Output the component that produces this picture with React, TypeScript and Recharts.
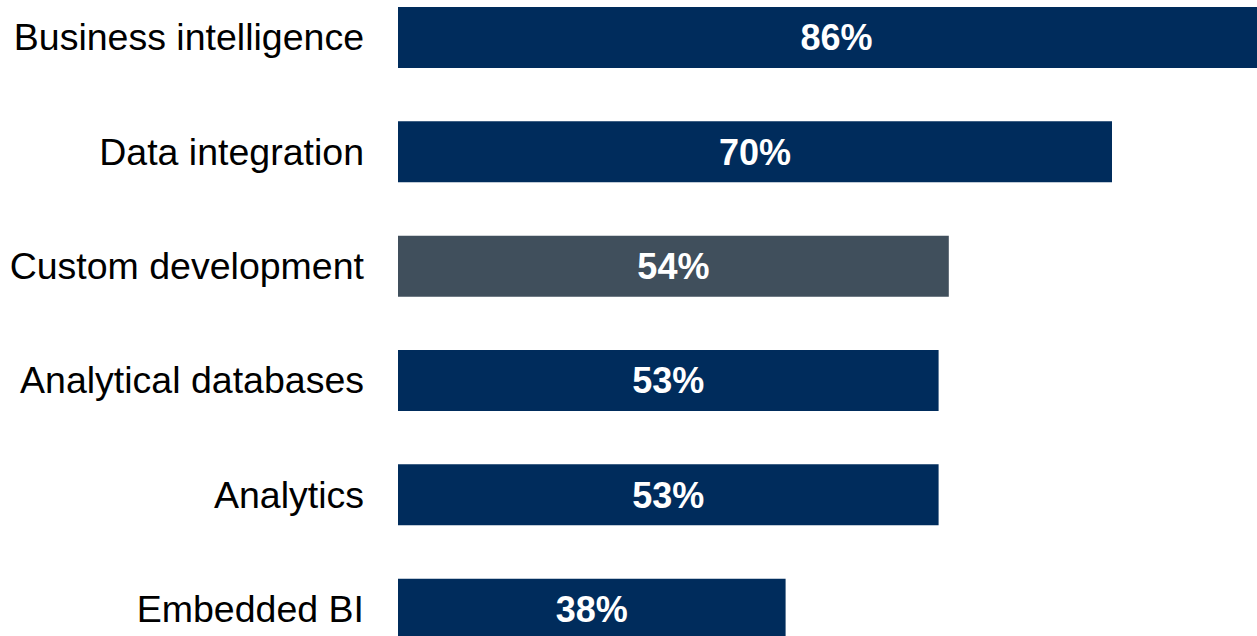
import { BarChart, Bar, XAxis, YAxis, Cell, LabelList } from 'recharts';

const CATEGORIES = [
  'Business intelligence',
  'Data integration',
  'Custom development',
  'Analytical databases',
  'Analytics',
  'Embedded BI',
];

const SHARES = [86, 70, 54, 53, 53, 38];

const HIGHLIGHT = 'Custom development';

const NAVY = '#002C5C';
const SLATE = '#404F5C';
const FONT = '"Liberation Sans", Arial, sans-serif';

const data = CATEGORIES.map((name, i) => ({ name, value: SHARES[i] }));

export default function App() {
  return (
    <div
      style={{
        position: 'fixed',
        left: 0,
        top: 0,
        width: 1257,
        height: 636,
        overflow: 'hidden',
        background: '#fff',
      }}
    >
      {/* chart is larger than the frame on purpose: top bar and last bar get cut off */}
      <div style={{ position: 'absolute', left: 0, top: -20 }}>
        <BarChart
          width={1418}
          height={686}
          data={data}
          layout="vertical"
          margin={{ top: 0, right: 0, bottom: 0, left: 0 }}
          barSize={61}
        >
          <XAxis type="number" domain={[0, 100]} hide />
          <YAxis
            type="category"
            dataKey="name"
            width={398}
            axisLine={false}
            tickLine={false}
            tickSize={0}
            tickMargin={34}
            interval={0}
            tick={{ fill: '#000', fontSize: 37.5, fontFamily: FONT }}
          />
          <Bar dataKey="value" isAnimationActive={false}>
            {data.map((d) => (
              <Cell key={d.name} fill={d.name === HIGHLIGHT ? SLATE : NAVY} />
            ))}
            <LabelList
              dataKey="value"
              position="center"
              formatter={(v: any) => `${v}%`}
              style={{ fill: '#fff', fontSize: 36, fontWeight: 'bold', fontFamily: FONT }}
            />
          </Bar>
        </BarChart>
      </div>
    </div>
  );
}
